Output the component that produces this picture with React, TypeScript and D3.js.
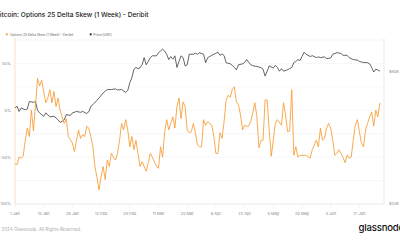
import React from 'react';
import * as d3 from 'd3';

// options 25 delta skew (1 week), percent
const skewDates = [
  '2024-01-01', '2024-01-02', '2024-01-03', '2024-01-04', '2024-01-05', '2024-01-06', '2024-01-07', '2024-01-08',
  '2024-01-09', '2024-01-10', '2024-01-11', '2024-01-12', '2024-01-13', '2024-01-14', '2024-01-16', '2024-01-17',
  '2024-01-18', '2024-01-19', '2024-01-20', '2024-01-21', '2024-01-22', '2024-01-23', '2024-01-25', '2024-01-26',
  '2024-01-27', '2024-01-29', '2024-01-30', '2024-01-31', '2024-02-01', '2024-02-02', '2024-02-03', '2024-02-04',
  '2024-02-05', '2024-02-06', '2024-02-07', '2024-02-08', '2024-02-09', '2024-02-10', '2024-02-11', '2024-02-12',
  '2024-02-13', '2024-02-14', '2024-02-15', '2024-02-16', '2024-02-17', '2024-02-18', '2024-02-19', '2024-02-20',
  '2024-02-21', '2024-02-22', '2024-02-23', '2024-02-24', '2024-02-25', '2024-02-26', '2024-02-27', '2024-02-28',
  '2024-02-29', '2024-03-01', '2024-03-02', '2024-03-03', '2024-03-05', '2024-03-06', '2024-03-07', '2024-03-08',
  '2024-03-10', '2024-03-11', '2024-03-12', '2024-03-13', '2024-03-14', '2024-03-15', '2024-03-16', '2024-03-17',
  '2024-03-18', '2024-03-19', '2024-03-20', '2024-03-21', '2024-03-22', '2024-03-23', '2024-03-24', '2024-03-25',
  '2024-03-26', '2024-03-27', '2024-03-28', '2024-03-29', '2024-03-30', '2024-03-31', '2024-04-01', '2024-04-02',
  '2024-04-03', '2024-04-04', '2024-04-06', '2024-04-07', '2024-04-08', '2024-04-09', '2024-04-10', '2024-04-11',
  '2024-04-12', '2024-04-13', '2024-04-14', '2024-04-15', '2024-04-16', '2024-04-17', '2024-04-18', '2024-04-19',
  '2024-04-20', '2024-04-21', '2024-04-22', '2024-04-23', '2024-04-24', '2024-04-25', '2024-04-26', '2024-04-27',
  '2024-04-28', '2024-04-29', '2024-04-30', '2024-05-01', '2024-05-02', '2024-05-03', '2024-05-04', '2024-05-05',
  '2024-05-06', '2024-05-07', '2024-05-08', '2024-05-10', '2024-05-11', '2024-05-12', '2024-05-13', '2024-05-14',
  '2024-05-15', '2024-05-16', '2024-05-17', '2024-05-18', '2024-05-19', '2024-05-21', '2024-05-22', '2024-05-24',
  '2024-05-25', '2024-05-27', '2024-05-28', '2024-05-29', '2024-05-30', '2024-05-31', '2024-06-01', '2024-06-02',
  '2024-06-03', '2024-06-04', '2024-06-05', '2024-06-06', '2024-06-07', '2024-06-08', '2024-06-09', '2024-06-10',
  '2024-06-11', '2024-06-12', '2024-06-13', '2024-06-14', '2024-06-15', '2024-06-16', '2024-06-17', '2024-06-18',
  '2024-06-19', '2024-06-20', '2024-06-21', '2024-06-22', '2024-06-23', '2024-06-24', '2024-06-25', '2024-06-26',
  '2024-06-27',
];
const skewValues = [
  -57, -58, -50, -51, -49, -32, -19, -28,
  0, -22, 6, 34, 26, 32, 8, 13,
  22, 8, 20, 4, 13, 0, -14, -9,
  -28, -35, -44, -32, -21, -30, -26, -28,
  -17, -19, -28, -39, -60, -72, -85, -71,
  -60, -74, -53, -60, -46, -50, -53, -46,
  -32, -14, -21, -10, -21, -39, -28, -42,
  -32, -46, -60, -55, -65, -56, -46, -50,
  -60, -62, -39, -50, -24, -10, -21, -14,
  -7, -19, 4, 13, -9, 9, 4, -21,
  -24, -23, -14, -24, -37, -39, -39, -10,
  -16, -12, -16, -28, -46, -46, -24, -30,
  -12, 11, 16, 14, 22, 25, 9, 6,
  -5, -21, -16, -17, -17, -12, -3, 8,
  -7, -40, -32, -32, 11, 11, -21, -49,
  -32, -14, -10, -16, 8, -5, -23, -22,
  22, -48, -39, -50, -48, -48, -48, -51,
  -42, -32, -39, -19, -32, -30, -19, -14,
  -19, -32, -48, -46, -42, -46, -50, -56,
  -48, -51, -50, -32, -16, -10, -23, -35,
  -39, -21, -14, -7, -2, -17, 0, -7,
  8,
];

// price [USD], thousands
const priceDates = [
  '2024-01-01', '2024-01-02', '2024-01-03', '2024-01-04', '2024-01-06', '2024-01-07', '2024-01-08', '2024-01-10',
  '2024-01-11', '2024-01-12', '2024-01-13', '2024-01-15', '2024-01-16', '2024-01-18', '2024-01-20', '2024-01-21',
  '2024-01-23', '2024-01-24', '2024-01-25', '2024-01-26', '2024-01-28', '2024-01-29', '2024-01-31', '2024-02-02',
  '2024-02-03', '2024-02-05', '2024-02-06', '2024-02-07', '2024-02-08', '2024-02-10', '2024-02-11', '2024-02-13',
  '2024-02-14', '2024-02-15', '2024-02-17', '2024-02-19', '2024-02-20', '2024-02-22', '2024-02-24', '2024-02-25',
  '2024-02-26', '2024-02-27', '2024-02-28', '2024-02-29', '2024-03-01', '2024-03-02', '2024-03-03', '2024-03-04',
  '2024-03-05', '2024-03-06', '2024-03-07', '2024-03-08', '2024-03-10', '2024-03-11', '2024-03-12', '2024-03-13',
  '2024-03-14', '2024-03-15', '2024-03-16', '2024-03-17', '2024-03-18', '2024-03-19', '2024-03-20', '2024-03-21',
  '2024-03-22', '2024-03-23', '2024-03-24', '2024-03-25', '2024-03-26', '2024-03-28', '2024-03-29', '2024-03-30',
  '2024-03-31', '2024-04-02', '2024-04-03', '2024-04-04', '2024-04-05', '2024-04-06', '2024-04-08', '2024-04-09',
  '2024-04-10', '2024-04-11', '2024-04-12', '2024-04-13', '2024-04-15', '2024-04-16', '2024-04-17', '2024-04-18',
  '2024-04-19', '2024-04-21', '2024-04-22', '2024-04-23', '2024-04-25', '2024-04-26', '2024-04-28', '2024-04-30',
  '2024-05-01', '2024-05-02', '2024-05-03', '2024-05-04', '2024-05-06', '2024-05-07', '2024-05-08', '2024-05-09',
  '2024-05-10', '2024-05-11', '2024-05-13', '2024-05-14', '2024-05-15', '2024-05-16', '2024-05-17', '2024-05-18',
  '2024-05-19', '2024-05-20', '2024-05-21', '2024-05-22', '2024-05-24', '2024-05-25', '2024-05-27', '2024-05-28',
  '2024-05-29', '2024-05-31', '2024-06-01', '2024-06-03', '2024-06-04', '2024-06-06', '2024-06-08', '2024-06-09',
  '2024-06-11', '2024-06-12', '2024-06-14', '2024-06-16', '2024-06-17', '2024-06-19', '2024-06-21', '2024-06-22',
  '2024-06-23', '2024-06-24', '2024-06-25', '2024-06-26', '2024-06-27',
];
const priceValues = [
  44.4, 45.0, 43.1, 44.4, 43.7, 44.0, 46.8, 46.5,
  46.8, 43.5, 42.6, 41.4, 42.6, 41.2, 41.4, 40.9,
  39.4, 39.7, 40.2, 42.0, 41.7, 42.6, 43.1, 42.8,
  43.1, 42.4, 43.0, 45.0, 45.6, 47.3, 48.2, 50.3,
  51.0, 51.7, 51.7, 52.0, 51.5, 51.7, 50.5, 51.3,
  54.7, 57.0, 61.2, 62.1, 61.5, 62.0, 63.5, 67.4,
  63.5, 65.3, 67.4, 68.4, 68.4, 70.2, 71.2, 72.3,
  71.2, 69.3, 66.3, 68.0, 66.5, 68.4, 62.1, 65.3,
  68.4, 67.4, 62.9, 63.5, 69.3, 69.3, 69.9, 69.3,
  70.2, 69.3, 64.6, 67.4, 68.0, 68.7, 69.9, 70.5,
  68.7, 69.5, 68.5, 64.6, 64.0, 63.2, 62.1, 60.9,
  63.5, 64.0, 64.7, 66.3, 63.5, 63.0, 62.6, 62.0,
  61.2, 57.8, 60.2, 62.9, 61.8, 63.2, 62.1, 60.2,
  61.5, 60.2, 61.0, 61.5, 62.1, 64.6, 65.3, 66.3,
  65.8, 68.0, 70.5, 69.3, 68.0, 68.5, 67.4, 67.8,
  67.4, 67.8, 66.8, 67.2, 69.3, 70.2, 69.8, 68.7,
  68.7, 67.4, 66.3, 66.0, 65.3, 64.7, 64.6, 64.0,
  62.1, 59.8, 61.2, 60.8, 60.2,
];

const dateTicks = [
  '2024-01-01', '2024-01-15', '2024-01-29', '2024-02-12', '2024-02-26', '2024-03-11', '2024-03-25',
  '2024-04-08', '2024-04-22', '2024-05-06', '2024-05-20', '2024-06-03', '2024-06-17',
];
const skewGridTicks = [-100, -75, -50, -25, 0, 25, 50, 75];
const skewLabelTicks = [-100, -50, 0, 50];
const priceTicks = [20, 60];

const W = 400;
const H = 240;
const plot = { left: 15, right: 384, top: 40, bottom: 204 };
const font = 'Inter, "Noto Sans", Arial, sans-serif';
const orange = '#f89b30';

const parse = d3.utcParse('%Y-%m-%d');

export default function App() {
  const x = d3.scaleUtc()
    .domain([parse('2024-01-01'), parse('2024-06-29')] as [Date, Date])
    .range([plot.left, plot.right]);
  const ySkew = d3.scaleLinear().domain([-100, 75]).range([plot.bottom, plot.top]);
  // price is on a log axis
  const yPrice = d3.scaleLog().domain([20, 78]).range([plot.bottom, plot.top]);

  const skewData = skewDates.map((d, i) => ({ date: parse(d) as Date, v: skewValues[i] }));
  const priceData = priceDates.map((d, i) => ({ date: parse(d) as Date, v: priceValues[i] }));

  const skewLine = d3.line<{ date: Date; v: number }>()
    .x((d) => x(d.date))
    .y((d) => ySkew(d.v));
  const priceLine = d3.line<{ date: Date; v: number }>()
    .x((d) => x(d.date))
    .y((d) => yPrice(d.v));

  const fmtDate = d3.utcFormat('%-d %b');

  return (
    <svg
      width={W}
      height={H}
      style={{ position: 'absolute', left: 0, top: 0, background: '#fff' }}
      fontFamily={font}
    >
      <text x={-4.5} y={17} fontSize={6.6} fontWeight={500} fill="#222">
        Bitcoin: Options 25 Delta Skew (1 Week) - Deribit
      </text>

      {/* legend */}
      <circle cx={6.8} cy={34.3} r={1.1} fill={orange} />
      <text x={10} y={35.5} fontSize={3.3} fill="#666">Options 25 Delta Skew (1 Week) - Deribit</text>
      <circle cx={90.7} cy={34.3} r={1.1} fill="#222" />
      <text x={93.3} y={35.5} fontSize={3.3} fill="#666">Price [USD]</text>

      {/* grid */}
      {skewGridTicks.map((t) => (
        <line key={t} x1={plot.left} x2={plot.right} y1={ySkew(t)} y2={ySkew(t)} stroke="#f1f1f1" strokeWidth={0.6} />
      ))}
      <line x1={plot.left} x2={plot.right} y1={plot.bottom} y2={plot.bottom} stroke="#e6e6e6" strokeWidth={0.6} />
      {dateTicks.map((t) => (
        <line key={t} x1={x(parse(t) as Date)} x2={x(parse(t) as Date)} y1={plot.bottom} y2={plot.bottom + 4} stroke="#ececec" strokeWidth={0.6} />
      ))}

      {/* axes lines */}
      <line x1={plot.left} x2={plot.left} y1={plot.top - 2} y2={plot.bottom} stroke="#fbd3a4" strokeWidth={0.7} />
      <line x1={plot.right} x2={plot.right} y1={plot.top - 2} y2={plot.bottom} stroke="#e2e2e2" strokeWidth={0.7} />

      {skewLabelTicks.map((t) => (
        <text key={t} x={11} y={ySkew(t) + 1.4} fontSize={4} textAnchor="end" fill="#888">{`${t}%`}</text>
      ))}
      {priceTicks.map((t) => (
        <text key={t} x={389} y={yPrice(t) + 1.4} fontSize={4} fill="#888">{`$${t}k`}</text>
      ))}
      {dateTicks.map((t) => (
        <text key={t} x={x(parse(t) as Date)} y={214.5} fontSize={4} textAnchor="middle" fill="#888">
          {fmtDate(parse(t) as Date)}
        </text>
      ))}

      <path d={priceLine(priceData) ?? ''} fill="none" stroke="#333" strokeWidth={0.75} strokeLinejoin="round" />
      <path d={skewLine(skewData) ?? ''} fill="none" stroke={orange} strokeWidth={0.85} strokeLinejoin="round" />

      <text x={1.5} y={230.8} fontSize={4.5} fill="#aaa">2024 Glassnode. All Rights Reserved.</text>
      <text x={358.5} y={231} fontSize={9.6} fontWeight={500} fill="#111" letterSpacing={-0.2}>glassnode</text>
    </svg>
  );
}
